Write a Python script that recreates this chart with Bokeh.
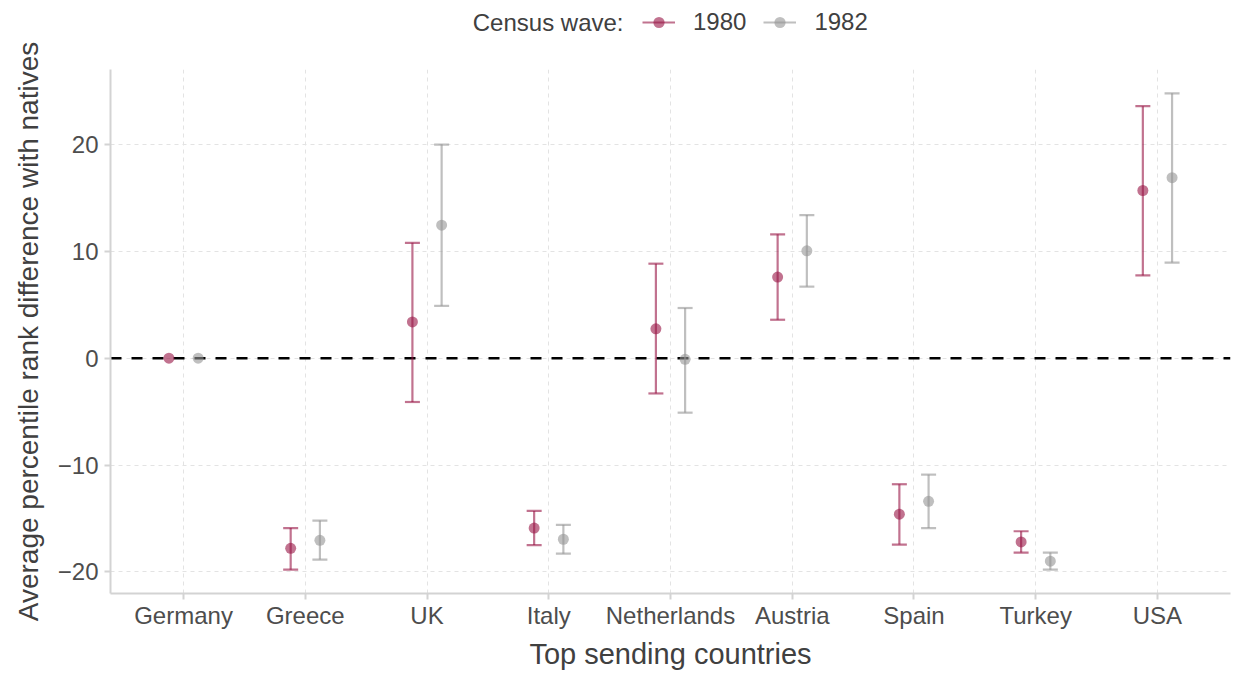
import numpy as np
from bokeh.plotting import figure
from bokeh.layouts import column
from bokeh.models import (ColumnDataSource, Whisker, TeeHead, Span, Legend,
                          LegendItem, FixedTicker, Range1d, Label)
from bokeh.embed import file_html
from bokeh.resources import INLINE

# ---- data ----
countries = ["Germany", "Greece", "UK", "Italy", "Netherlands",
             "Austria", "Spain", "Turkey", "USA"]
waves = ["1980", "1982"]
est_1980 = [0.0, -17.8, 3.4, -15.9, 2.75, 7.6, -14.6, -17.2, 15.7]
lo_1980 = [None, -19.8, -4.1, -17.5, -3.3, 3.6, -17.45, -18.2, 7.75]
hi_1980 = [None, -15.9, 10.8, -14.3, 8.85, 11.6, -11.8, -16.2, 23.6]
est_1982 = [0.0, -17.05, 12.45, -16.95, -0.1, 10.05, -13.4, -19.0, 16.9]
lo_1982 = [None, -18.85, 4.9, -18.3, -5.1, 6.7, -15.9, -19.8, 8.95]
hi_1982 = [None, -15.2, 20.0, -15.6, 4.7, 13.4, -10.9, -18.2, 24.8]
y_ticks = [-20, -10, 0, 10, 20]
legend_title = "Census wave:"

colors = {"1980": "#971445", "1982": "#959595"}
dodge_off = {"1980": -0.12, "1982": 0.12}
FONT = "Liberation Sans"
TXT = "#404040"

W, H = 1235, 673
LEG_H = 38
B_LEFT, B_RIGHT, B_TOP, B_BOTTOM = 110, 5, 69 - LEG_H, 80

pos = np.arange(1, len(countries) + 1, dtype=float)

# ---------------- main chart ----------------
p = figure(width=W, height=H - LEG_H,
           x_range=Range1d(0.4, len(countries) + 0.6),
           y_range=Range1d(-22.03, 27.03),
           output_backend="svg", toolbar_location=None,
           min_border_left=B_LEFT, min_border_right=B_RIGHT,
           min_border_top=B_TOP, min_border_bottom=B_BOTTOM)
p.outline_line_color = None
p.background_fill_color = "white"
p.border_fill_color = "white"

for g in (p.xgrid, p.ygrid):
    g.grid_line_color = "#E3E3E3"
    g.grid_line_dash = "4 4"
    g.grid_line_width = 1

zero = Span(location=0, dimension="width", line_color="black",
            line_width=2.5, line_dash="11 10", level="underlay")
p.add_layout(zero)

series = {"1980": (est_1980, lo_1980, hi_1980),
          "1982": (est_1982, lo_1982, hi_1982)}
sources = {}
for w in waves:
    est, lo, hi = series[w]
    c = colors[w]
    xs = pos + dodge_off[w]
    idx = [i for i in range(len(countries)) if lo[i] is not None]
    err = ColumnDataSource(dict(x=[xs[i] for i in idx],
                                lo=[lo[i] for i in idx],
                                hi=[hi[i] for i in idx]))
    pts = ColumnDataSource(dict(x=list(xs), y=est))
    sources[w] = (err, pts)
    p.segment(x0="x", y0="lo", x1="x", y1="hi", source=err,
              line_color=c, line_alpha=0.6, line_width=2.2)
    wh = Whisker(source=err, base="x", lower="lo", upper="hi",
                 dimension="height", line_alpha=0, level="glyph",
                 upper_head=TeeHead(size=15, line_color=c, line_alpha=0.6, line_width=2.2),
                 lower_head=TeeHead(size=15, line_color=c, line_alpha=0.6, line_width=2.2))
    p.add_layout(wh)
    p.scatter(x="x", y="y", source=pts, size=11, fill_color=c,
              fill_alpha=0.6, line_color=None)

xa = p.xaxis[0]
ya = p.yaxis[0]
xa.ticker = FixedTicker(ticks=list(pos))
xa.major_label_overrides = {float(pos[i]): countries[i] for i in range(len(countries))}
ya.ticker = FixedTicker(ticks=y_ticks)
ya.major_label_overrides = {float(t): (str(t).replace("-", "\u2212")) for t in y_ticks}
xa.axis_label = "Top sending countries"
ya.axis_label = "Average percentile rank difference with natives"
for ax in (xa, ya):
    ax.axis_line_color = "#D3D3D3"
    ax.axis_line_width = 2
    ax.major_tick_line_color = "#D3D3D3"
    ax.major_tick_line_width = 2
    ax.major_tick_out = 6
    ax.major_tick_in = 0
    ax.minor_tick_line_color = None
    ax.major_label_text_font = FONT
    ax.major_label_text_font_size = "24px"
    ax.major_label_text_color = "#4D4D4D"
    ax.axis_label_text_font = FONT
    ax.axis_label_text_font_style = "normal"
    ax.axis_label_text_color = TXT
xa.axis_label_text_font_size = "29px"
ya.axis_label_text_font_size = "28px"
xa.major_label_standoff = 2
xa.axis_label_standoff = 6
ya.major_label_standoff = 6
ya.axis_label_standoff = 11

# ---------------- legend strip (frame aligned with the chart frame) ----------------
lf = figure(width=W, height=LEG_H, x_range=Range1d(-3, -2), y_range=Range1d(-3, -2),
            x_axis_type=None, y_axis_type=None, output_backend="svg",
            toolbar_location=None, min_border=0)
lf.outline_line_color = None
lf.grid.visible = False
lf.background_fill_color = "white"
lf.border_fill_color = "white"

items = []
for w in waves:
    c = colors[w]
    err, pts = sources[w]
    seg = lf.segment(x0="x", y0="lo", x1="x", y1="hi", source=err,
                     line_color=c, line_alpha=0.6, line_width=2.2)
    sc = lf.scatter(x="x", y="y", source=pts, size=11, fill_color=c,
                    fill_alpha=0.6, line_color=None)
    items.append(LegendItem(label=w, renderers=[seg, sc]))

ROW_Y = LEG_H - 22          # legend row centre, from strip bottom
X0 = 110                    # strip frame is aligned with chart frame left
legend = Legend(items=items, orientation="horizontal",
                location=(642 - X0, ROW_Y - 14),
                margin=0, padding=0,
                glyph_width=33, glyph_height=28, label_standoff=18, spacing=17,
                background_fill_alpha=0, border_line_color=None)
legend.label_text_font = FONT
legend.label_text_font_size = "24px"
legend.label_text_color = TXT
lf.add_layout(legend)

lf.add_layout(Label(x=623 - X0, y=ROW_Y, x_units="screen", y_units="screen",
                    text=legend_title, text_align="right", text_baseline="middle",
                    text_font=FONT, text_font_size="24px", text_color=TXT))

layout = column(lf, p, spacing=0)
open("out.html", "w").write(file_html(layout, INLINE))
